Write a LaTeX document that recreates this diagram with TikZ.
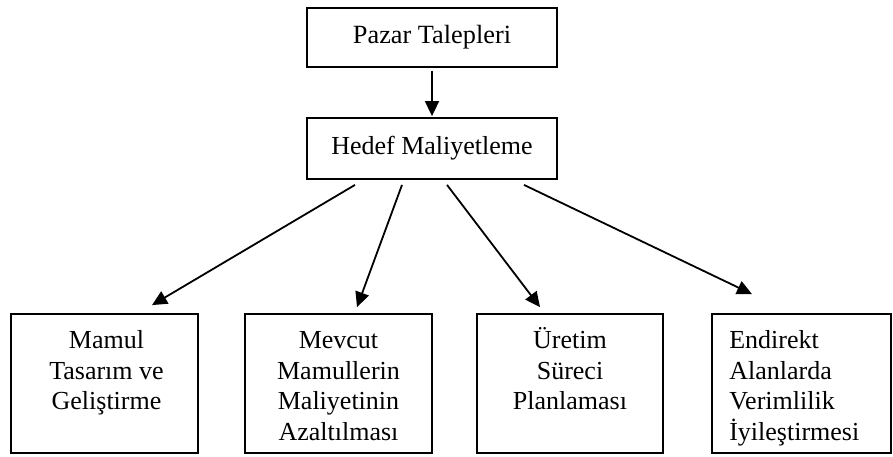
\documentclass[tikz,border=0pt]{standalone}
\usepackage{fontspec}
\setmainfont{Liberation Serif}
\usetikzlibrary{arrows.meta}
\begin{document}
\begin{tikzpicture}[x=1pt,y=-1pt,
  box/.style={draw, line width=1.8pt, inner sep=0pt, minimum width=#1},
  label/.style={inner sep=0pt, anchor=north, font=\fontsize{26}{30.7}\selectfont},
  arr/.style={line width=1.8pt, -{Triangle[length=15pt,width=14pt]}}]
  \useasboundingbox (0,0) rectangle (893,456);
  % top level
  \node[box=250pt, minimum height=59pt, font=\fontsize{26.3}{30.7}\selectfont] (pazar) at (432,37.5) {Pazar Talepleri};
  \node[box=250pt, minimum height=61pt, font=\fontsize{26}{30.7}\selectfont] (hedef) at (432,148.5) {Hedef Maliyetleme};
  % bottom row of boxes
  \node[box=187pt, minimum height=139pt] (b1) at (104.5,383.5) {};
  \node[box=187pt, minimum height=139pt] (b2) at (338.5,383.5) {};
  \node[box=186pt, minimum height=139pt] (b3) at (570,383.5) {};
  \node[box=179pt, minimum height=139pt] (b4) at (801.5,383.5) {};
  % box texts
  \node[label, align=center] (t1) at ([xshift=2pt,yshift=-14pt]b1.north) {\vphantom{Ü}Mamul\\Tasarım ve\\Geliştirme};
  \node[label, align=center] (t2) at ([yshift=-14pt]b2.north) {\vphantom{Ü}Mevcut\\Mamullerin\\Maliyetinin\\Azaltılması};
  \node[label, align=center] (t3) at ([yshift=-14pt]b3.north) {Üretim\\Süreci\\Planlaması};
  \node[label, align=left, anchor=north west] (t4) at ([xshift=18pt,yshift=-14pt]b4.north west) {\vphantom{Ü}Endirekt\\Alanlarda\\Verimlilik\\İyileştirmesi};
  % connectors
  \draw[arr] ([yshift=-3pt]pazar.south) -- ([yshift=1pt]hedef.north);
  \draw[arr] ([xshift=-77pt,yshift=-5pt]hedef.south) -- ([xshift=47.5pt,yshift=8pt]b1.north);
  \draw[arr] ([xshift=-30pt,yshift=-5pt]hedef.south) -- ([xshift=18.5pt,yshift=6pt]b2.north);
  \draw[arr] ([xshift=15pt,yshift=-5pt]hedef.south) -- ([xshift=-30pt,yshift=6pt]b3.north);
  \draw[arr] ([xshift=92pt,yshift=-5pt]hedef.south) -- ([xshift=-49.5pt,yshift=19pt]b4.north);
\end{tikzpicture}
\end{document}
